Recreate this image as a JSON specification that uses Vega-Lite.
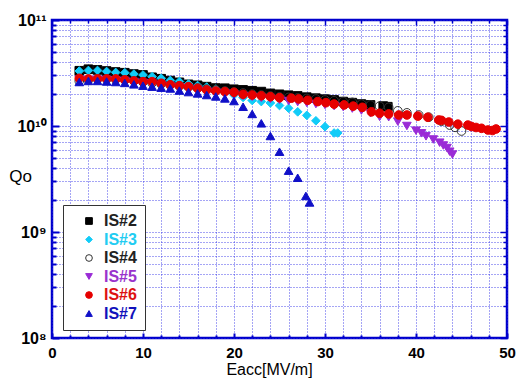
{
  "$schema": "https://vega.github.io/schema/vega-lite/v6.json",
  "autosize": {"type": "none"},
  "width": 455,
  "height": 318,
  "padding": {"left": 52, "top": 20, "right": 11, "bottom": 40},
  "background": "white",
  "config": {
    "view": {"stroke": "#0000CC", "strokeWidth": 2.5},
    "font": "Liberation Sans",
    "legend": {"labelFont": "Liberation Sans", "labelFontWeight": "bold", "labelFontSize": 16}
  },
  "data": {"values": [
    {"s":"IS#2","E":3,"Q":3.32e10},{"s":"IS#2","E":4,"Q":3.43e10},{"s":"IS#2","E":5,"Q":3.38e10},{"s":"IS#2","E":6,"Q":3.30e10},{"s":"IS#2","E":7,"Q":3.23e10},{"s":"IS#2","E":8,"Q":3.18e10},{"s":"IS#2","E":9,"Q":3.09e10},{"s":"IS#2","E":10,"Q":3.03e10},{"s":"IS#2","E":11,"Q":2.88e10},{"s":"IS#2","E":12,"Q":2.79e10},{"s":"IS#2","E":13,"Q":2.68e10},{"s":"IS#2","E":14,"Q":2.58e10},{"s":"IS#2","E":15,"Q":2.47e10},{"s":"IS#2","E":16,"Q":2.42e10},{"s":"IS#2","E":17,"Q":2.35e10},{"s":"IS#2","E":18,"Q":2.28e10},{"s":"IS#2","E":19,"Q":2.27e10},{"s":"IS#2","E":20,"Q":2.22e10},{"s":"IS#2","E":21,"Q":2.19e10},{"s":"IS#2","E":22,"Q":2.15e10},{"s":"IS#2","E":23,"Q":2.11e10},{"s":"IS#2","E":24,"Q":2.03e10},{"s":"IS#2","E":25,"Q":1.99e10},{"s":"IS#2","E":26,"Q":1.95e10},{"s":"IS#2","E":27,"Q":1.92e10},{"s":"IS#2","E":28,"Q":1.87e10},{"s":"IS#2","E":29,"Q":1.83e10},{"s":"IS#2","E":30,"Q":1.79e10},{"s":"IS#2","E":31,"Q":1.76e10},{"s":"IS#2","E":32,"Q":1.70e10},{"s":"IS#2","E":33,"Q":1.66e10},{"s":"IS#2","E":34,"Q":1.61e10},{"s":"IS#2","E":35,"Q":1.58e10},{"s":"IS#2","E":36.4,"Q":1.54e10},{"s":"IS#2","E":36.9,"Q":1.52e10},
    {"s":"IS#3","E":3,"Q":3.30e10},{"s":"IS#3","E":4,"Q":3.34e10},{"s":"IS#3","E":5,"Q":3.34e10},{"s":"IS#3","E":6,"Q":3.27e10},{"s":"IS#3","E":7,"Q":3.20e10},{"s":"IS#3","E":8,"Q":3.18e10},{"s":"IS#3","E":9,"Q":3.09e10},{"s":"IS#3","E":10,"Q":3.03e10},{"s":"IS#3","E":11,"Q":2.92e10},{"s":"IS#3","E":12,"Q":2.82e10},{"s":"IS#3","E":13,"Q":2.69e10},{"s":"IS#3","E":14,"Q":2.63e10},{"s":"IS#3","E":15,"Q":2.49e10},{"s":"IS#3","E":16,"Q":2.41e10},{"s":"IS#3","E":17,"Q":2.33e10},{"s":"IS#3","E":18,"Q":2.23e10},{"s":"IS#3","E":19,"Q":2.09e10},{"s":"IS#3","E":20,"Q":1.96e10},{"s":"IS#3","E":21,"Q":1.86e10},{"s":"IS#3","E":22,"Q":1.74e10},{"s":"IS#3","E":23,"Q":1.70e10},{"s":"IS#3","E":24,"Q":1.65e10},{"s":"IS#3","E":25,"Q":1.56e10},{"s":"IS#3","E":26,"Q":1.47e10},{"s":"IS#3","E":27,"Q":1.36e10},{"s":"IS#3","E":28,"Q":1.26e10},{"s":"IS#3","E":29,"Q":1.12e10},{"s":"IS#3","E":30,"Q":9.85e9},{"s":"IS#3","E":31,"Q":8.59e9},{"s":"IS#3","E":31.4,"Q":8.59e9},
    {"s":"IS#4","E":3,"Q":2.66e10},{"s":"IS#4","E":4,"Q":2.72e10},{"s":"IS#4","E":5,"Q":2.78e10},{"s":"IS#4","E":6,"Q":2.78e10},{"s":"IS#4","E":7,"Q":2.75e10},{"s":"IS#4","E":8,"Q":2.72e10},{"s":"IS#4","E":9,"Q":2.66e10},{"s":"IS#4","E":10,"Q":2.60e10},{"s":"IS#4","E":11,"Q":2.55e10},{"s":"IS#4","E":12,"Q":2.49e10},{"s":"IS#4","E":13,"Q":2.44e10},{"s":"IS#4","E":14,"Q":2.38e10},{"s":"IS#4","E":15,"Q":2.33e10},{"s":"IS#4","E":16,"Q":2.28e10},{"s":"IS#4","E":17,"Q":2.23e10},{"s":"IS#4","E":18,"Q":2.19e10},{"s":"IS#4","E":19,"Q":2.14e10},{"s":"IS#4","E":20,"Q":2.09e10},{"s":"IS#4","E":21,"Q":2.05e10},{"s":"IS#4","E":22,"Q":2.00e10},{"s":"IS#4","E":23,"Q":1.96e10},{"s":"IS#4","E":24,"Q":1.92e10},{"s":"IS#4","E":25,"Q":1.88e10},{"s":"IS#4","E":26,"Q":1.86e10},{"s":"IS#4","E":27,"Q":1.84e10},{"s":"IS#4","E":28,"Q":1.82e10},{"s":"IS#4","E":29,"Q":1.80e10},{"s":"IS#4","E":30,"Q":1.76e10},{"s":"IS#4","E":31,"Q":1.73e10},{"s":"IS#4","E":32,"Q":1.70e10},{"s":"IS#4","E":33,"Q":1.67e10},{"s":"IS#4","E":34,"Q":1.61e10},{"s":"IS#4","E":35,"Q":1.58e10},{"s":"IS#4","E":36,"Q":1.54e10},{"s":"IS#4","E":37,"Q":1.50e10},{"s":"IS#4","E":38,"Q":1.39e10},{"s":"IS#4","E":39,"Q":1.33e10},{"s":"IS#4","E":40.3,"Q":1.27e10},{"s":"IS#4","E":41.4,"Q":1.21e10},{"s":"IS#4","E":42.8,"Q":1.11e10},{"s":"IS#4","E":43.7,"Q":1.02e10},{"s":"IS#4","E":44.3,"Q":9.72e9},{"s":"IS#4","E":45,"Q":8.97e9},
    {"s":"IS#5","E":3,"Q":2.72e10},{"s":"IS#5","E":4,"Q":2.72e10},{"s":"IS#5","E":5,"Q":2.72e10},{"s":"IS#5","E":6,"Q":2.72e10},{"s":"IS#5","E":7,"Q":2.69e10},{"s":"IS#5","E":8,"Q":2.66e10},{"s":"IS#5","E":9,"Q":2.60e10},{"s":"IS#5","E":10,"Q":2.55e10},{"s":"IS#5","E":11,"Q":2.52e10},{"s":"IS#5","E":12,"Q":2.44e10},{"s":"IS#5","E":13,"Q":2.36e10},{"s":"IS#5","E":14,"Q":2.31e10},{"s":"IS#5","E":15,"Q":2.26e10},{"s":"IS#5","E":16,"Q":2.19e10},{"s":"IS#5","E":17,"Q":2.12e10},{"s":"IS#5","E":18,"Q":2.07e10},{"s":"IS#5","E":19,"Q":2.03e10},{"s":"IS#5","E":20,"Q":1.98e10},{"s":"IS#5","E":21,"Q":1.92e10},{"s":"IS#5","E":22,"Q":1.88e10},{"s":"IS#5","E":23,"Q":1.84e10},{"s":"IS#5","E":24,"Q":1.80e10},{"s":"IS#5","E":25,"Q":1.76e10},{"s":"IS#5","E":26,"Q":1.72e10},{"s":"IS#5","E":27,"Q":1.68e10},{"s":"IS#5","E":28,"Q":1.65e10},{"s":"IS#5","E":29,"Q":1.61e10},{"s":"IS#5","E":30,"Q":1.58e10},{"s":"IS#5","E":31,"Q":1.54e10},{"s":"IS#5","E":32,"Q":1.51e10},{"s":"IS#5","E":33,"Q":1.46e10},{"s":"IS#5","E":34,"Q":1.40e10},{"s":"IS#5","E":35,"Q":1.32e10},{"s":"IS#5","E":36,"Q":1.22e10},{"s":"IS#5","E":37,"Q":1.21e10},{"s":"IS#5","E":38,"Q":1.10e10},{"s":"IS#5","E":39,"Q":1.00e10},{"s":"IS#5","E":40,"Q":9.03e9},{"s":"IS#5","E":40.6,"Q":8.53e9},{"s":"IS#5","E":41.1,"Q":7.99e9},{"s":"IS#5","E":41.9,"Q":7.46e9},{"s":"IS#5","E":42.6,"Q":6.96e9},{"s":"IS#5","E":43,"Q":6.55e9},{"s":"IS#5","E":43.4,"Q":6.20e9},{"s":"IS#5","E":43.7,"Q":5.72e9},{"s":"IS#5","E":44,"Q":5.38e9},
    {"s":"IS#6","E":3,"Q":2.82e10},{"s":"IS#6","E":4,"Q":2.78e10},{"s":"IS#6","E":5,"Q":2.78e10},{"s":"IS#6","E":6,"Q":2.78e10},{"s":"IS#6","E":7,"Q":2.78e10},{"s":"IS#6","E":8,"Q":2.72e10},{"s":"IS#6","E":9,"Q":2.66e10},{"s":"IS#6","E":10,"Q":2.62e10},{"s":"IS#6","E":11,"Q":2.62e10},{"s":"IS#6","E":12,"Q":2.53e10},{"s":"IS#6","E":13,"Q":2.44e10},{"s":"IS#6","E":14,"Q":2.40e10},{"s":"IS#6","E":15,"Q":2.35e10},{"s":"IS#6","E":16,"Q":2.27e10},{"s":"IS#6","E":17,"Q":2.19e10},{"s":"IS#6","E":18,"Q":2.14e10},{"s":"IS#6","E":19,"Q":2.11e10},{"s":"IS#6","E":20,"Q":2.08e10},{"s":"IS#6","E":21,"Q":1.99e10},{"s":"IS#6","E":22,"Q":1.96e10},{"s":"IS#6","E":23,"Q":1.93e10},{"s":"IS#6","E":24,"Q":1.89e10},{"s":"IS#6","E":25,"Q":1.85e10},{"s":"IS#6","E":26.3,"Q":1.83e10},{"s":"IS#6","E":27.1,"Q":1.80e10},{"s":"IS#6","E":28.1,"Q":1.75e10},{"s":"IS#6","E":29.2,"Q":1.70e10},{"s":"IS#6","E":30.1,"Q":1.66e10},{"s":"IS#6","E":31,"Q":1.61e10},{"s":"IS#6","E":32.1,"Q":1.58e10},{"s":"IS#6","E":33.1,"Q":1.54e10},{"s":"IS#6","E":34.1,"Q":1.50e10},{"s":"IS#6","E":35.1,"Q":1.36e10},{"s":"IS#6","E":36,"Q":1.32e10},{"s":"IS#6","E":37,"Q":1.30e10},{"s":"IS#6","E":38.1,"Q":1.27e10},{"s":"IS#6","E":39,"Q":1.27e10},{"s":"IS#6","E":40.2,"Q":1.24e10},{"s":"IS#6","E":41.3,"Q":1.21e10},{"s":"IS#6","E":42.5,"Q":1.14e10},{"s":"IS#6","E":42.8,"Q":1.13e10},{"s":"IS#6","E":43.6,"Q":1.09e10},{"s":"IS#6","E":44.6,"Q":1.04e10},{"s":"IS#6","E":45.7,"Q":1.02e10},{"s":"IS#6","E":46.1,"Q":9.89e9},{"s":"IS#6","E":46.6,"Q":9.68e9},{"s":"IS#6","E":47.2,"Q":9.51e9},{"s":"IS#6","E":47.9,"Q":9.17e9},{"s":"IS#6","E":48.4,"Q":9.07e9},{"s":"IS#6","E":48.8,"Q":9.37e9},
    {"s":"IS#7","E":3,"Q":2.60e10},{"s":"IS#7","E":4,"Q":2.66e10},{"s":"IS#7","E":5,"Q":2.66e10},{"s":"IS#7","E":6,"Q":2.63e10},{"s":"IS#7","E":7,"Q":2.60e10},{"s":"IS#7","E":8,"Q":2.55e10},{"s":"IS#7","E":9,"Q":2.47e10},{"s":"IS#7","E":10,"Q":2.40e10},{"s":"IS#7","E":11,"Q":2.35e10},{"s":"IS#7","E":12,"Q":2.30e10},{"s":"IS#7","E":13,"Q":2.26e10},{"s":"IS#7","E":14,"Q":2.16e10},{"s":"IS#7","E":15,"Q":2.09e10},{"s":"IS#7","E":16,"Q":2.03e10},{"s":"IS#7","E":17,"Q":1.96e10},{"s":"IS#7","E":18,"Q":1.90e10},{"s":"IS#7","E":19,"Q":1.82e10},{"s":"IS#7","E":20,"Q":1.72e10},{"s":"IS#7","E":21,"Q":1.52e10},{"s":"IS#7","E":22,"Q":1.30e10},{"s":"IS#7","E":23,"Q":1.06e10},{"s":"IS#7","E":24,"Q":8.05e9},{"s":"IS#7","E":25,"Q":5.72e9},{"s":"IS#7","E":26,"Q":3.79e9},{"s":"IS#7","E":27,"Q":3.25e9},{"s":"IS#7","E":27.9,"Q":2.19e9},{"s":"IS#7","E":28.3,"Q":1.90e9}
  ]},
  "layer": [
    {
      "mark": {"type": "point", "opacity": 0},
      "encoding": {
        "x": {"field": "E", "type": "quantitative", "scale": {"domain": [0, 50], "nice": false},
          "axis": {"orient": "top", "values": [0,2,4,6,8,10,12,14,16,18,20,22,24,26,28,30,32,34,36,38,40,42,44,46,48,50],
            "labels": false, "domain": false, "title": null,
            "grid": true, "gridColor": "#2a2ae8", "gridDash": [1, 2], "gridWidth": 1, "gridOpacity": 0.85,
            "tickColor": "#0000CC", "tickWidth": 1.5,
            "tickSize": {"condition": {"test": "datum.value % 10 == 0", "value": -5}, "value": -3}}},
        "y": {"field": "Q", "type": "quantitative", "scale": {"type": "log", "domain": [1e8, 1e11], "nice": false},
          "axis": {"orient": "right", "values": [1e8,2e8,3e8,4e8,5e8,6e8,7e8,8e8,9e8,1e9,2e9,3e9,4e9,5e9,6e9,7e9,8e9,9e9,1e10,2e10,3e10,4e10,5e10,6e10,7e10,8e10,9e10,1e11],
            "labels": false, "domain": false, "title": null,
            "grid": true, "gridColor": "#2a2ae8", "gridDash": [1, 2], "gridWidth": 1, "gridOpacity": 0.85,
            "tickColor": "#0000CC", "tickWidth": 1.5,
            "tickSize": {"condition": {"test": "indexof([1e8,1e9,1e10,1e11], datum.value) >= 0", "value": -7}, "value": -4}}}
      }
    },
    {
      "mark": {"type": "point", "filled": true, "opacity": 1, "strokeWidth": 1, "size": 75},
      "encoding": {
        "x": {"field": "E", "type": "quantitative",
          "axis": {"orient": "bottom", "values": [0,2,4,6,8,10,12,14,16,18,20,22,24,26,28,30,32,34,36,38,40,42,44,46,48,50],
            "labelExpr": "datum.value % 10 == 0 ? datum.label : ''", "labelOverlap": false, "labelFlush": false,
            "labelFont": "Liberation Sans", "labelFontWeight": "bold", "labelFontSize": 15, "labelColor": "#000000",
            "labelPadding": 12, "domain": false, "grid": false,
            "tickColor": "#0000CC", "tickWidth": 2,
            "tickSize": {"condition": {"test": "datum.value % 10 == 0", "value": -5}, "value": -3},
            "title": "Eacc[MV/m]", "titleFont": "Liberation Sans", "titleFontWeight": "normal", "titleFontSize": 16,
            "titleColor": "#000000", "titleX": 217, "titleY": 36, "titleAlign": "center", "titleBaseline": "alphabetic"}},
        "y": {"field": "Q", "type": "quantitative",
          "axis": {"orient": "left", "values": [1e8,2e8,3e8,4e8,5e8,6e8,7e8,8e8,9e8,1e9,2e9,3e9,4e9,5e9,6e9,7e9,8e9,9e9,1e10,2e10,3e10,4e10,5e10,6e10,7e10,8e10,9e10,1e11],
            "labelExpr": "datum.value == 1e8 ? '10⁸' : datum.value == 1e9 ? '10⁹' : datum.value == 1e10 ? '10¹⁰' : datum.value == 1e11 ? '10¹¹' : ''",
            "labelOverlap": false, "labelFlush": false,
            "labelFont": "Liberation Sans", "labelFontWeight": "bold", "labelFontSize": 16, "labelColor": "#000000",
            "labelPadding": 13, "domain": false, "grid": false,
            "tickColor": "#0000CC", "tickWidth": 2,
            "tickSize": {"condition": {"test": "indexof([1e8,1e9,1e10,1e11], datum.value) >= 0", "value": -7}, "value": -4},
            "title": "Qo", "titleFont": "Liberation Sans", "titleFontWeight": "normal", "titleFontSize": 17,
            "titleColor": "#000000", "titleAngle": 0, "titleX": -32, "titleY": 161, "titleAlign": "center", "titleBaseline": "alphabetic"}},
        "shape": {"field": "s", "type": "nominal",
          "scale": {"domain": ["IS#2","IS#3","IS#4","IS#5","IS#6","IS#7"], "range": ["square","diamond","circle","triangle-down","circle","triangle-up"]},
          "legend": {"title": null, "orient": "none", "legendX": 11, "legendY": 185,
            "padding": 8, "rowPadding": 2.5, "symbolOffset": 10, "labelOffset": 7, "symbolSize": 45, "symbolStrokeWidth": 1,
            "strokeColor": "#333333", "fillColor": "white",
            "labelColor": {"expr": "datum.value == 'IS#3' ? '#22CCF2' : datum.value == 'IS#5' ? '#9933CC' : datum.value == 'IS#6' ? '#DD1111' : datum.value == 'IS#7' ? '#1111BB' : '#222222'"}}},
        "fill": {"field": "s", "type": "nominal",
          "scale": {"domain": ["IS#2","IS#3","IS#4","IS#5","IS#6","IS#7"], "range": ["#000000","#11CCF8","transparent","#9A2BD6","#E60000","#1010C8"]},
          "legend": {"title": null, "orient": "none", "legendX": 11, "legendY": 185,
            "padding": 8, "rowPadding": 2.5, "symbolOffset": 10, "labelOffset": 7, "symbolSize": 45, "symbolStrokeWidth": 1,
            "strokeColor": "#333333", "fillColor": "white",
            "labelColor": {"expr": "datum.value == 'IS#3' ? '#22CCF2' : datum.value == 'IS#5' ? '#9933CC' : datum.value == 'IS#6' ? '#DD1111' : datum.value == 'IS#7' ? '#1111BB' : '#222222'"}}},
        "stroke": {"field": "s", "type": "nominal",
          "scale": {"domain": ["IS#2","IS#3","IS#4","IS#5","IS#6","IS#7"], "range": ["#000000","#11CCF8","#333333","#9A2BD6","#E60000","#1010C8"]},
          "legend": {"title": null, "orient": "none", "legendX": 11, "legendY": 185,
            "padding": 8, "rowPadding": 2.5, "symbolOffset": 10, "labelOffset": 7, "symbolSize": 45, "symbolStrokeWidth": 1,
            "strokeColor": "#333333", "fillColor": "white",
            "labelColor": {"expr": "datum.value == 'IS#3' ? '#22CCF2' : datum.value == 'IS#5' ? '#9933CC' : datum.value == 'IS#6' ? '#DD1111' : datum.value == 'IS#7' ? '#1111BB' : '#222222'"}}}
      }
    }
  ]
}
